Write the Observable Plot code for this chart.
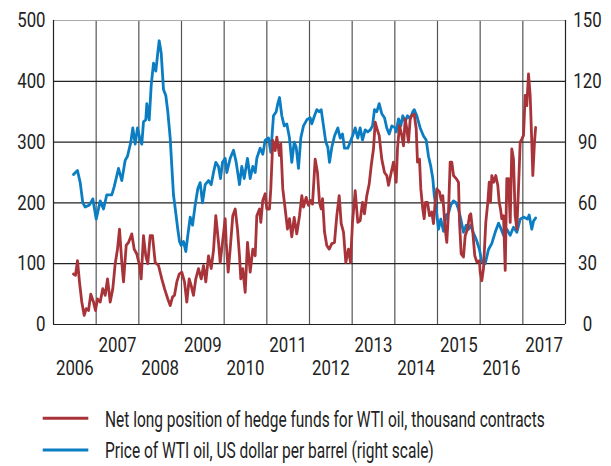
<!DOCTYPE html>
<html><head><meta charset="utf-8">
<script src="https://cdn.jsdelivr.net/npm/d3@7"></script>
<script src="https://cdn.jsdelivr.net/npm/@observablehq/plot@0.6"></script>
<style>
body{margin:0;background:#fff;}
#chart svg{display:block}
</style></head><body><div id="chart"></div>
<script>
const FONT = 'Roboto,"Liberation Sans",sans-serif';

// [decimal year, thousand contracts]
const netLong = [[2006.469,83],[2006.516,81],[2006.562,105],[2006.609,70],[2006.663,37],[2006.720,15],[2006.766,26],[2006.820,23],[2006.874,50],[2006.937,37],[2006.984,23],[2007.031,42],[2007.095,37],[2007.155,59],[2007.212,48],[2007.266,75],[2007.329,37],[2007.390,59],[2007.446,100],[2007.500,124],[2007.547,157],[2007.601,102],[2007.641,70],[2007.704,130],[2007.758,135],[2007.835,149],[2007.891,124],[2007.952,116],[2008.016,97],[2008.055,75],[2008.109,146],[2008.163,113],[2008.210,100],[2008.266,146],[2008.320,146],[2008.383,102],[2008.461,97],[2008.538,75],[2008.602,59],[2008.679,42],[2008.735,31],[2008.789,45],[2008.836,48],[2008.890,70],[2008.946,83],[2009.007,86],[2009.070,70],[2009.124,37],[2009.180,75],[2009.227,64],[2009.281,48],[2009.335,75],[2009.398,92],[2009.462,75],[2009.516,97],[2009.570,70],[2009.633,113],[2009.696,92],[2009.750,122],[2009.804,179],[2009.867,135],[2009.907,102],[2009.961,135],[2010.024,174],[2010.048,135],[2010.094,86],[2010.141,124],[2010.202,179],[2010.259,190],[2010.312,157],[2010.359,113],[2010.390,75],[2010.437,92],[2010.493,53],[2010.547,135],[2010.610,86],[2010.671,124],[2010.727,113],[2010.765,179],[2010.828,190],[2010.859,168],[2010.905,204],[2010.962,215],[2010.999,190],[2011.062,190],[2011.093,223],[2011.140,303],[2011.196,286],[2011.234,308],[2011.297,278],[2011.327,297],[2011.374,223],[2011.430,190],[2011.484,157],[2011.531,174],[2011.585,144],[2011.641,176],[2011.702,149],[2011.766,179],[2011.820,212],[2011.859,193],[2011.922,209],[2011.977,196],[2012.031,204],[2012.070,198],[2012.133,272],[2012.187,250],[2012.234,201],[2012.274,190],[2012.305,207],[2012.352,152],[2012.405,130],[2012.462,124],[2012.523,133],[2012.586,135],[2012.640,179],[2012.696,212],[2012.743,166],[2012.797,152],[2012.851,102],[2012.914,124],[2012.961,102],[2013.008,168],[2013.071,220],[2013.132,168],[2013.188,171],[2013.242,201],[2013.289,182],[2013.343,212],[2013.399,231],[2013.446,261],[2013.500,289],[2013.540,333],[2013.594,319],[2013.633,311],[2013.694,272],[2013.758,250],[2013.811,245],[2013.852,229],[2013.915,250],[2013.969,267],[2014.032,234],[2014.062,289],[2014.109,327],[2014.163,311],[2014.203,294],[2014.243,338],[2014.280,322],[2014.320,300],[2014.360,338],[2014.398,344],[2014.454,346],[2014.501,322],[2014.531,267],[2014.578,272],[2014.609,223],[2014.655,190],[2014.688,174],[2014.719,201],[2014.766,201],[2014.812,179],[2014.866,185],[2014.906,166],[2014.946,201],[2014.984,223],[2015.047,218],[2015.087,204],[2015.124,212],[2015.180,157],[2015.218,135],[2015.258,185],[2015.297,267],[2015.335,267],[2015.375,245],[2015.438,240],[2015.492,234],[2015.516,168],[2015.555,116],[2015.609,111],[2015.649,146],[2015.703,157],[2015.750,179],[2015.780,182],[2015.827,152],[2015.874,113],[2015.921,103],[2015.984,105],[2016.000,86],[2016.038,72],[2016.078,92],[2016.132,168],[2016.179,201],[2016.212,234],[2016.242,201],[2016.273,245],[2016.320,234],[2016.366,245],[2016.413,229],[2016.446,201],[2016.477,190],[2016.507,174],[2016.547,179],[2016.587,89],[2016.624,240],[2016.664,240],[2016.704,168],[2016.741,289],[2016.781,272],[2016.821,179],[2016.859,157],[2016.898,223],[2016.938,300],[2016.976,305],[2017.016,311],[2017.055,377],[2017.093,360],[2017.133,412],[2017.172,377],[2017.210,300],[2017.234,245],[2017.273,300],[2017.300,324]];

// [decimal year, US dollar per barrel]
const wtiPrice = [[2006.469,74],[2006.562,76],[2006.626,70],[2006.687,60],[2006.743,58],[2006.844,59],[2006.921,62],[2007.001,52],[2007.095,61],[2007.172,57],[2007.249,64],[2007.366,64],[2007.423,68],[2007.523,77],[2007.601,71],[2007.680,81],[2007.734,83],[2007.812,90],[2007.859,97],[2007.915,89],[2007.969,97],[2008.032,91],[2008.070,89],[2008.109,100],[2008.163,101],[2008.187,109],[2008.243,101],[2008.290,118],[2008.344,129],[2008.398,125],[2008.444,134],[2008.477,140],[2008.524,134],[2008.578,116],[2008.632,113],[2008.679,105],[2008.735,92],[2008.773,78],[2008.812,64],[2008.866,55],[2008.913,47],[2008.953,41],[2008.993,39],[2009.047,41],[2009.101,36],[2009.148,44],[2009.204,53],[2009.258,49],[2009.321,59],[2009.382,67],[2009.438,70],[2009.492,60],[2009.555,69],[2009.633,71],[2009.696,69],[2009.750,75],[2009.804,80],[2009.867,78],[2009.914,72],[2009.961,80],[2010.024,82],[2010.062,75],[2010.141,82],[2010.219,86],[2010.282,80],[2010.359,69],[2010.413,78],[2010.470,72],[2010.547,82],[2010.610,72],[2010.671,78],[2010.727,75],[2010.765,82],[2010.844,87],[2010.905,84],[2010.962,91],[2011.039,92],[2011.093,85],[2011.156,103],[2011.219,105],[2011.257,109],[2011.297,112],[2011.351,103],[2011.407,98],[2011.468,99],[2011.531,92],[2011.585,80],[2011.641,90],[2011.688,87.5],[2011.742,77],[2011.796,92],[2011.859,98],[2011.937,101],[2012.016,102],[2012.054,99],[2012.117,103],[2012.171,106],[2012.227,105],[2012.274,106],[2012.328,98],[2012.382,90],[2012.429,87.5],[2012.469,80],[2012.523,87.5],[2012.586,93],[2012.663,97],[2012.719,92],[2012.773,94],[2012.820,87],[2012.898,87],[2012.954,90],[2013.008,93],[2013.071,97],[2013.132,92],[2013.188,97],[2013.242,91],[2013.305,96],[2013.366,95],[2013.423,96],[2013.477,98],[2013.523,106],[2013.577,105],[2013.633,109],[2013.694,104],[2013.758,102],[2013.811,97],[2013.868,94],[2013.929,98],[2014.008,97],[2014.032,95],[2014.086,101.5],[2014.140,98],[2014.187,103],[2014.243,100],[2014.297,103],[2014.360,101.5],[2014.421,105],[2014.454,106],[2014.515,103],[2014.594,97],[2014.672,93],[2014.735,91],[2014.789,83],[2014.843,78],[2014.890,72],[2014.923,64],[2014.970,57],[2015.023,47],[2015.077,52],[2015.141,46],[2015.204,54],[2015.258,55],[2015.311,59],[2015.375,61],[2015.438,60],[2015.492,57],[2015.546,52],[2015.609,45.5],[2015.672,49],[2015.726,47],[2015.780,49],[2015.844,45],[2015.907,42],[2015.984,37],[2016.038,31],[2016.118,30],[2016.195,37],[2016.273,40],[2016.352,45.5],[2016.430,50],[2016.493,47],[2016.547,44],[2016.624,47],[2016.704,44],[2016.781,48],[2016.859,45.5],[2016.938,52],[2017.016,53],[2017.109,52],[2017.149,54],[2017.210,47],[2017.250,51],[2017.300,52.6]];

const leftTicks = [0, 100, 200, 300, 400, 500];
const rightTicks = [0, 30, 60, 90, 120, 150];
const yearLabels = [2006, 2007, 2008, 2009, 2010, 2011, 2012, 2013, 2014, 2015, 2016, 2017];
const gridYears = [2007, 2008, 2009, 2010, 2011, 2012, 2013, 2014, 2015, 2016, 2017];
const legendLabels = ["Net long position of hedge funds for WTI oil, thousand contracts", "Price of WTI oil, US dollar per barrel (right scale)"];
const seriesColors = ["#a8343a", "#0b7dc2"];
const rightMax = 150, leftMax = 500;
const k = leftMax / rightMax;

const txt = {fontSize: 21, fill: "#222", lineAnchor: "middle"};
const plot = Plot.plot({
  width: 611, height: 385,
  marginLeft: 53, marginRight: 46, marginTop: 20, marginBottom: 61,
  x: {domain: [2006, 2018], axis: null},
  y: {domain: [0, leftMax], axis: null},
  style: {fontFamily: FONT, fontSize: "21px", color: "#222", background: "#fff", overflow: "visible"},
  marks: [
    Plot.ruleX(gridYears, {stroke: "#555", strokeWidth: 1.2, strokeOpacity: 1}),
    Plot.ruleY([100, 200, 300, 400], {stroke: "#222", strokeWidth: 1.2, strokeOpacity: 1}),
    Plot.ruleY([leftMax], {stroke: "#aaa", strokeWidth: 1.2}),
    Plot.ruleY([0], {stroke: "#222", strokeWidth: 1.2}),
    Plot.ruleX([2006, 2018], {stroke: "#222", strokeWidth: 1.2}),
    Plot.line(wtiPrice, {x: d => d[0], y: d => d[1] * k, stroke: seriesColors[1], strokeWidth: 2.8, strokeLinejoin: "round"}),
    Plot.line(netLong, {x: d => d[0], y: d => d[1], stroke: seriesColors[0], strokeWidth: 2.8, strokeLinejoin: "round"}),
    Plot.text(leftTicks, {...txt, x: () => 2006, y: d => d, text: d => String(d), textAnchor: "end", dx: -8}),
    Plot.text(rightTicks, {...txt, x: () => 2018, y: d => d * k, text: d => String(d), textAnchor: "middle", dx: 22}),
    Plot.text(yearLabels.filter(y => y % 2 === 1), {...txt, x: d => d + 0.5, frameAnchor: "bottom", dy: 21, text: d => String(d)}),
    Plot.text(yearLabels.filter(y => y % 2 === 0), {...txt, x: d => d + 0.5, frameAnchor: "bottom", dy: 44, text: d => String(d)})
  ]
});
document.getElementById("chart").appendChild(plot);
// condensed look for the tick labels
plot.querySelectorAll("text").forEach(t => {
  const w = t.getComputedTextLength();
  if (w > 0) {
    t.setAttribute("textLength", (w * 0.8).toFixed(1));
    t.setAttribute("lengthAdjust", "spacingAndGlyphs");
  }
});

// legend below the chart
const legendWidths = [440, 329];
const leg = d3.create("svg").attr("width", 611).attr("height", 81).style("display", "block");
document.getElementById("chart").appendChild(leg.node());
legendLabels.forEach((label, i) => {
  const cy = 33.3 + i * 31.7;
  leg.append("line").attr("x1", 42.7).attr("x2", 88.3).attr("y1", cy).attr("y2", cy)
    .attr("stroke", seriesColors[i]).attr("stroke-width", 3);
  const t = leg.append("text").attr("x", 0).attr("y", 0)
    .attr("font-family", FONT).attr("font-size", 22).attr("fill", "#222")
    .text(label);
  const w = t.node().getComputedTextLength();
  t.attr("transform", `translate(105,${cy + 8.2}) scale(${legendWidths[i] / w},1)`);
});
</script></body></html>
